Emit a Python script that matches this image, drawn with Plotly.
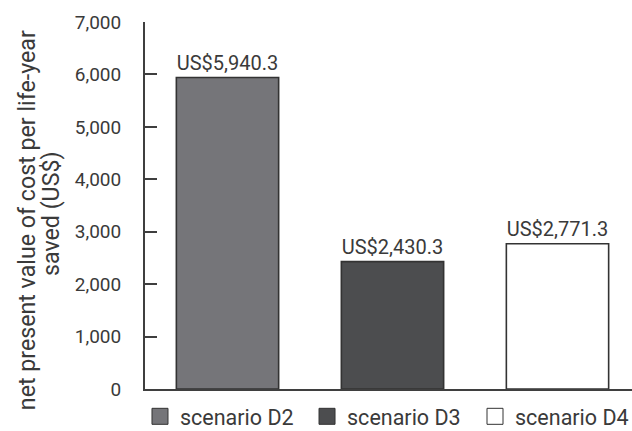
import plotly.graph_objects as go

# Net present value of cost per life-year saved, by scenario
scenarios = ["scenario D2", "scenario D3", "scenario D4"]
cost_per_lys = [5940.3, 2430.3, 2771.3]
fill_colors = ["#757579", "#4c4d4f", "#ffffff"]

y_ticks = [0, 1000, 2000, 3000, 4000, 5000, 6000, 7000]

FONT = "Roboto, Liberation Sans, Arial, sans-serif"
INK = "#3a3a3a"
LINE = "#3f3f3f"

fig = go.Figure()

fig.add_trace(go.Bar(
    x=scenarios,
    y=cost_per_lys,
    width=0.62,
    marker=dict(color=fill_colors, line=dict(color="#333333", width=1.6)),
    texttemplate="US$%{y:,.1f}",
    textposition="outside",
    textfont=dict(family=FONT, size=20, color=INK),
    cliponaxis=False,
    showlegend=False,
    hoverinfo="skip",
))

# One legend per scenario so each swatch sits at its own spot in the row
legend_ids = ["legend", "legend2", "legend3"]
legend_x = [0.2215, 0.4858, 0.7516]
for name, col, lid in zip(scenarios, fill_colors, legend_ids):
    fig.add_trace(go.Scatter(
        x=[None], y=[None], mode="markers", name=name, legend=lid,
        marker=dict(symbol="square", size=16, color=col,
                    line=dict(color="#333333", width=1)),
    ))

legend_style = dict(
    orientation="h",
    xref="container", yref="container",
    y=0.034, xanchor="left", yanchor="middle",
    font=dict(family=FONT, size=21.5, color=INK),
    bgcolor="rgba(0,0,0,0)",
)

fig.update_layout(
    width=632, height=431,
    margin=dict(l=145, r=0, t=22, b=42, autoexpand=False),
    paper_bgcolor="white", plot_bgcolor="white",
    font=dict(family=FONT, color=INK),
    showlegend=True,
    legend=dict(x=legend_x[0], **legend_style),
    legend2=dict(x=legend_x[1], **legend_style),
    legend3=dict(x=legend_x[2], **legend_style),
    xaxis=dict(
        range=[-0.5, 2.4515],
        showline=True, linecolor=LINE, linewidth=2,
        showticklabels=False, ticks="", showgrid=False, zeroline=False,
    ),
    yaxis=dict(
        range=[0, 7000],
        tickvals=y_ticks, tickformat=",",
        ticks="inside", ticklen=12, tickwidth=1.5, tickcolor=LINE,
        ticklabelstandoff=18,
        tickfont=dict(family=FONT, size=19, color=INK),
        showline=True, linecolor=LINE, linewidth=2,
        showgrid=False, zeroline=False,
    ),
)

# Two-line rotated y-axis title
title_lines = ["net present value of cost per life-year", "saved (US$)"]
for text, xs, yc in zip(title_lines, [-118, -94], [0.460, 0.477]):
    fig.add_annotation(
        text=text, textangle=-90,
        xref="paper", yref="paper", x=0, y=yc,
        xanchor="center", yanchor="middle", xshift=xs,
        showarrow=False,
        font=dict(family=FONT, size=23.2, color=INK),
    )

fig.write_html("out.html")
